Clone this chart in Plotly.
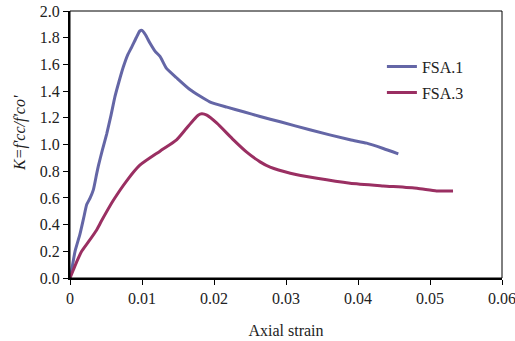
import plotly.graph_objects as go

fsa1_strain = [0, 0.00023, 0.0007, 0.00139, 0.0019, 0.00232, 0.0028, 0.00324, 0.0037, 0.00394,
               0.0045, 0.0051, 0.0057, 0.00625, 0.0068, 0.0074, 0.008, 0.00857, 0.0092, 0.0097,
               0.0100, 0.0105, 0.0111, 0.0118, 0.0125, 0.0134, 0.0148, 0.0167, 0.0194, 0.0218,
               0.0241, 0.0264, 0.0292, 0.0333, 0.0389, 0.0412, 0.0435, 0.0456]
fsa1_k = [0, 0.06, 0.2, 0.33, 0.45, 0.55, 0.6, 0.66, 0.78, 0.84,
          0.96, 1.08, 1.22, 1.36, 1.47, 1.58, 1.67, 1.73, 1.80, 1.85,
          1.855, 1.82, 1.76, 1.70, 1.66, 1.57, 1.50, 1.41, 1.32, 1.28,
          1.245, 1.21, 1.17, 1.11, 1.035, 1.01, 0.97, 0.93]

fsa3_strain = [0, 0.00046, 0.0010, 0.00162, 0.00255, 0.0037, 0.0044, 0.0060, 0.0079, 0.0097,
               0.0125, 0.0148, 0.0160, 0.0171, 0.0178, 0.0183, 0.0190, 0.0204, 0.0227, 0.0245,
               0.0264, 0.0278, 0.0306, 0.0343, 0.0389, 0.0435, 0.0482, 0.0509, 0.0532]
fsa3_k = [0, 0.06, 0.13, 0.20, 0.27, 0.36, 0.43, 0.58, 0.73, 0.845,
          0.95, 1.035, 1.11, 1.18, 1.22, 1.23, 1.22, 1.16, 1.035, 0.945,
          0.87, 0.83, 0.785, 0.747, 0.71, 0.69, 0.672, 0.652, 0.652]

x_ticks = [0, 0.01, 0.02, 0.03, 0.04, 0.05, 0.06]
x_ticktext = ["0", "0.01", "0.02", "0.03", "0.04", "0.05", "0.06"]
y_ticks = [0.0, 0.2, 0.4, 0.6, 0.8, 1.0, 1.2, 1.4, 1.6, 1.8, 2.0]

x_title = "Axial strain"
y_title = "<i>K=f'cc/f'co'</i>"

font = "Liberation Serif"

fig = go.Figure()
fig.add_trace(go.Scatter(x=fsa1_strain, y=fsa1_k, mode="lines", name="FSA.1",
                         legendgroup="a",
                         line=dict(color="#6466A6", width=3, shape="spline", smoothing=0.5)))
fig.add_trace(go.Scatter(x=fsa3_strain, y=fsa3_k, mode="lines", name="FSA.3",
                         legendgroup="b",
                         line=dict(color="#9A2F62", width=3, shape="spline", smoothing=0.5)))

fig.update_layout(
    width=515, height=341,
    margin=dict(l=70, r=13, t=11, b=63, autoexpand=False),
    paper_bgcolor="white", plot_bgcolor="white",
    font=dict(family=font, size=16, color="#222"),
    showlegend=True,
    legend=dict(x=0.722, y=0.855, xanchor="left", yanchor="top",
                bgcolor="rgba(0,0,0,0)", tracegroupgap=2,
                font=dict(family=font, size=16)),
    xaxis=dict(range=[0, 0.06], tickvals=x_ticks, ticktext=x_ticktext, automargin=False,
               showgrid=False, zeroline=False, showline=True, linecolor="black",
               linewidth=2, ticks="outside", ticklen=5, tickcolor="black",
               tickfont=dict(family=font, size=16), ticklabeloverflow="allow",
               title=dict(text=x_title, standoff=19, font=dict(family=font, size=16))),
    yaxis=dict(range=[0, 2.0], tickvals=y_ticks, tickformat=".1f", automargin=False,
               showgrid=False, zeroline=False, showline=True, linecolor="black",
               linewidth=2, ticks="outside", ticklen=5, tickcolor="black",
               tickfont=dict(family=font, size=16), ticklabeloverflow="allow"),
    annotations=[dict(text=y_title, xref="paper", yref="paper", x=-0.1157, y=0.543,
                      xanchor="center", yanchor="middle", textangle=-90, showarrow=False,
                      font=dict(family=font, size=16, color="#222"))],
    shapes=[dict(type="rect", xref="paper", yref="paper", x0=0, y0=0, x1=1, y1=1,
                 line=dict(color="black", width=1))],
)

fig.write_html("out.html")
